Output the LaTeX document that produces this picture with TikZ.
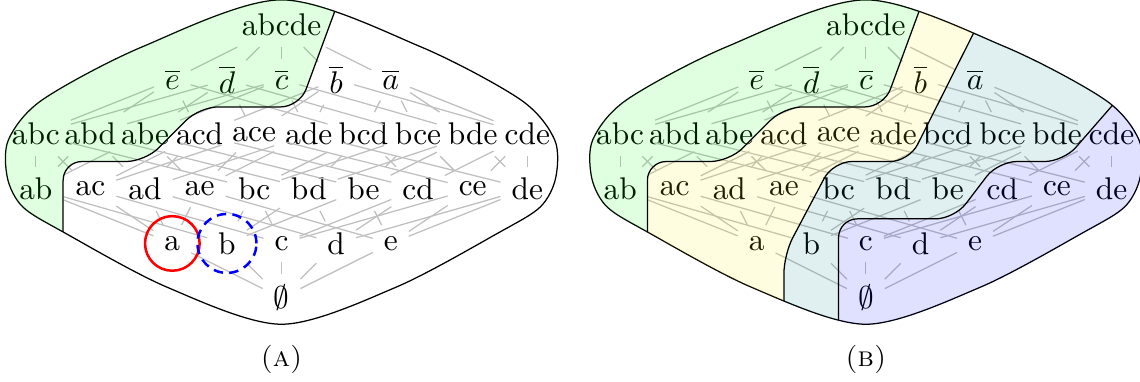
\documentclass[tikz,border=0pt]{standalone}
\begin{document}
\begin{tikzpicture}[
    x=0.612cm,
    y=0.612cm,
    link/.style={gray!50},
    halo/.style={thick},
    regab/.style={fill=green,fill opacity=0.12},
    rega/.style={fill=yellow,fill opacity=0.12},
    regb/.style={fill=teal,fill opacity=0.12},
    regnone/.style={fill=blue,fill opacity=0.12},
    blob/.style={insert path={plot[smooth cycle] coordinates {(0,5.46) (2.55,4.6)
        (4.38,3.63) (5,2.9) (5.02,2.2) (4.74,1.67) (4,1.21) (2.1,0.2) (0,-0.48)
        (-2.1,0.2) (-4,1.21) (-4.74,1.67) (-5.02,2.2) (-5,2.9) (-4.38,3.63) (-2.55,4.6)}}},
    cutab/.style={rounded corners=6pt,insert path={(1.25,6) -- (0.33,3.5) -- (-1.5,3.5)
        -- (-2.5,2.5) -- (-4,2.5) -- (-4,-2)}},
    cuta/.style={rounded corners=6pt,insert path={(2.55,6) -- (0.79,2.5) -- (-0.6,2.5)
        -- (-1.5,0.8) -- (-1.5,-2)}},
    cutb/.style={rounded corners=6pt,insert path={(5.97,5.2) -- (3.62,2.5) -- (2.42,2.5)
        -- (1.62,1.45) -- (-0.5,1.45) -- (-0.5,-2)}}
]
    \useasboundingbox (-5.156,-1.52) rectangle (15.72,5.458);

    % the two lattices
    \foreach \p/\dx/\cap in {l/0/a, r/10.7/b} {
    \begin{scope}[shift={(\dx,0)}]
        \foreach \s/\x/\y/\t in {none/0/0/$\emptyset$,
            a/-2/1/a, b/-1/1/b, c/0/1/c, d/1/1/d, e/2/1/e,
            ab/-4.5/2/ab, ac/-3.5/2/ac, ad/-2.5/2/ad, ae/-1.5/2/ae, bc/-0.5/2/bc,
            bd/0.5/2/bd, be/1.5/2/be, cd/2.5/2/cd, ce/3.5/2/ce, de/4.5/2/de,
            abc/-4.5/3/abc, abd/-3.5/3/abd, abe/-2.5/3/abe, acd/-1.5/3/acd, ace/-0.5/3/ace,
            ade/0.5/3/ade, bcd/1.5/3/bcd, bce/2.5/3/bce, bde/3.5/3/bde, cde/4.5/3/cde,
            abcd/-2/4/$\overline{e}$, abce/-1/4/$\overline{d}$, abde/0/4/$\overline{c}$,
            acde/1/4/$\overline{b}$, bcde/2/4/$\overline{a}$,
            abcde/0/5/abcde}
            \node (\p-\s) at (\x,\y) {\t};
        \foreach \s/\kids in {a/none, b/none, c/none, d/none, e/none,
            ab/{a,b}, ac/{a,c}, ad/{a,d}, ae/{a,e}, bc/{b,c},
            bd/{b,d}, be/{b,e}, cd/{c,d}, ce/{c,e}, de/{d,e},
            abc/{ab,ac,bc}, abd/{ab,ad,bd}, abe/{ab,ae,be}, acd/{ac,ad,cd}, ace/{ac,ae,ce},
            ade/{ad,ae,de}, bcd/{bc,bd,cd}, bce/{bc,be,ce}, bde/{bd,be,de}, cde/{cd,ce,de},
            abcd/{abc,abd,acd,bcd}, abce/{abc,abe,ace,bce}, abde/{abd,abe,ade,bde},
            acde/{acd,ace,ade,cde}, bcde/{bcd,bce,bde,cde},
            abcde/{abcd,abce,abde,acde,bcde}}
            \foreach \k in \kids
                \draw[link] (\p-\s) -- (\p-\k);
        \draw[blob];
        \node[font=\small] (\p-cap) at (0,-1.12) {\textsc{(\cap)}};
    \end{scope}
    }

    % (a): sets above ab, a and b marked
    \begin{scope}
        \clip[blob];
        \fill[regab,cutab] -- (-7,-2) -- (-7,7) -- cycle;
        \draw[cutab];
    \end{scope}
    \draw[red,halo] (l-a) circle[radius=0.5];
    \draw[blue,halo,densely dashed] (l-b) circle[radius=0.54];

    % (b): four blocks
    \begin{scope}[shift={(10.7,0)}]
        \clip[blob];
        \fill[regab,cutab] -- (-7,-2) -- (-7,7) -- cycle;
        \begin{scope}
            \clip[cutab] -- (7,-2) -- (7,7) -- cycle;
            \fill[rega,cuta] -- (-7,-2) -- (-7,7) -- cycle;
        \end{scope}
        \begin{scope}
            \clip[cuta] -- (7,-2) -- (7,7) -- cycle;
            \fill[regb,cutb] -- (-7,-2) -- (-7,7) -- cycle;
        \end{scope}
        \fill[regnone,cutb] -- (7,-2) -- (7,7) -- cycle;
        \draw[cutab];
        \draw[cuta];
        \draw[cutb];
    \end{scope}
\end{tikzpicture}
\end{document}
